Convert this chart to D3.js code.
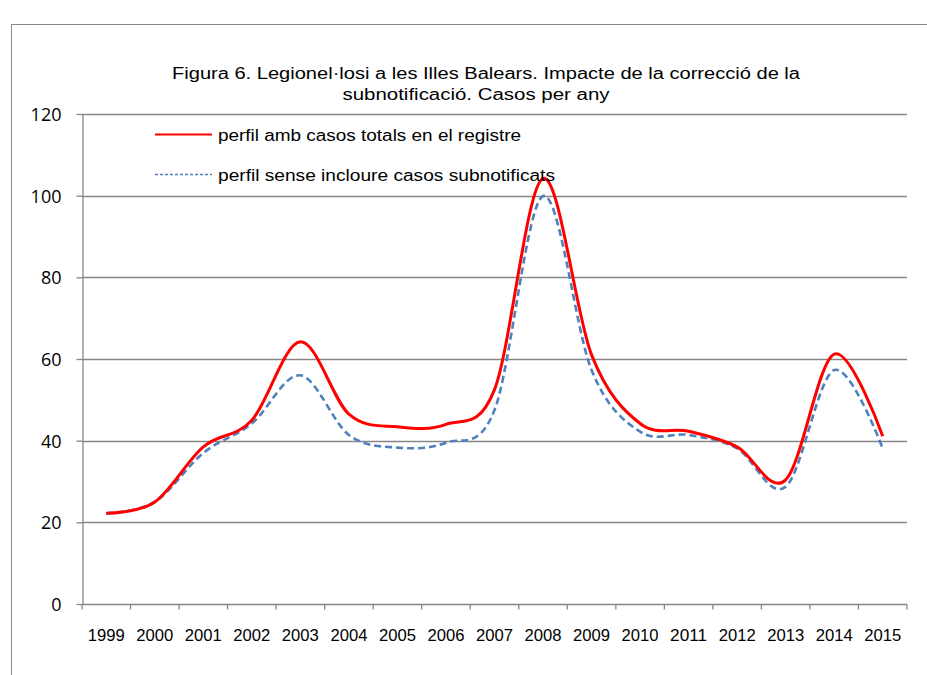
<!DOCTYPE html>
<html><head><meta charset="utf-8">
<script src="https://cdn.jsdelivr.net/npm/d3@7"></script>
<style>body{margin:0;background:#fff}</style>
</head><body>
<svg id="c" width="927" height="675"></svg>
<script>
const years = ["1999","2000","2001","2002","2003","2004","2005","2006","2007","2008","2009","2010","2011","2012","2013","2014","2015"];
const totalCases = [22.2, 25, 38.5, 45, 64.2, 46.5, 43.4, 44, 52.5, 104.2, 61, 44.2, 42.3, 38.5, 30.4, 61.2, 41.1];
const withoutSubnotified = [22.2, 25, 37, 44.2, 56, 41.4, 38.3, 39.5, 47.5, 99.9, 57.3, 42.2, 41.4, 38.1, 28.7, 57.3, 38.1];
const yTicks = [0, 20, 40, 60, 80, 100, 120];
const titleLines = ["Figura 6. Legionel·losi a les Illes Balears.  Impacte de la correcció de la", "subnotificació. Casos per any"];
const legendLabels = ["perfil amb casos  totals en el registre", "perfil sense incloure   casos subnotificats"];

const svg = d3.select("#c");
const L = 82, R = 907, T = 114, B = 604;
const grey = "#868686";

svg.append("path").attr("d","M11.5,675 L11.5,24.5 L927,24.5").attr("fill","none").attr("stroke",grey).attr("stroke-width",1);

const tl = [[486, 79, 628], [476, 100, 267]];
titleLines.forEach((t,i)=>{
  svg.append("text").attr("x",tl[i][0]).attr("y",tl[i][1]).attr("text-anchor","middle")
    .attr("font-family","Liberation Sans, Arial, sans-serif").attr("font-size",16).attr("fill","#000")
    .attr("textLength",tl[i][2]).attr("lengthAdjust","spacingAndGlyphs").text(t);
});

const x = d3.scaleBand().domain(years).range([L, R]);
const y = d3.scaleLinear().domain([0,120]).range([B, T]);

svg.append("g").selectAll("line").data(yTicks.filter(d=>d>0)).join("line")
  .attr("x1",L).attr("x2",R).attr("y1",d=>Math.round(y(d))+0.5).attr("y2",d=>Math.round(y(d))+0.5)
  .attr("stroke",grey).attr("stroke-width",1.3);

const ya = svg.append("g").attr("transform",`translate(${L+0.5},0)`)
  .call(d3.axisLeft(y).tickValues(yTicks).tickSize(6).tickSizeOuter(0));
ya.attr("font-size",null).attr("font-family",null);
ya.select(".domain").attr("stroke",grey).attr("stroke-width",1.3);
ya.selectAll(".tick line").attr("stroke",grey).attr("stroke-width",1.3);
ya.selectAll(".tick text").style("font-family","'Open Sans', 'Noto Sans', sans-serif").style("font-size","18px")
  .attr("fill","#000").attr("x",-21).attr("dy","0.36em");

const xa = svg.append("g").attr("transform",`translate(0,${B+0.5})`);
xa.append("line").attr("x1",L).attr("x2",R).attr("stroke",grey).attr("stroke-width",1.3);
const bounds = years.map(d=>x(d)).concat([R]);
xa.selectAll("line.tk").data(bounds).join("line").attr("class","tk")
  .attr("x1",d=>d).attr("x2",d=>d).attr("y1",0).attr("y2",5).attr("stroke",grey).attr("stroke-width",1.3);
xa.selectAll("text").data(years).join("text")
  .attr("x",d=>x(d)+x.bandwidth()/2).attr("y",36).attr("text-anchor","middle")
  .attr("font-family","Liberation Sans, Arial, sans-serif").attr("font-size",16).attr("fill","#000")
  .attr("textLength",37).attr("lengthAdjust","spacingAndGlyphs").text(d=>d);

const line = d3.line().x((d,i)=>x(years[i])+x.bandwidth()/2).y(d=>y(d)).curve(d3.curveCardinal.tension(0));

svg.append("path").attr("d",line(withoutSubnotified)).attr("fill","none")
  .attr("stroke","#4F81BD").attr("stroke-width",2.6).attr("stroke-dasharray","7,4");
svg.append("path").attr("d",line(totalCases)).attr("fill","none")
  .attr("stroke","#FF0000").attr("stroke-width",3).attr("stroke-linejoin","round");

const lg = [[134.5, "#FF0000", null, 303], [174.5, "#4F81BD", "3,2", 337]];
lg.forEach((g,i)=>{
  svg.append("line").attr("x1",155).attr("x2",212).attr("y1",g[0]).attr("y2",g[0])
    .attr("stroke",g[1]).attr("stroke-width",i===0?2:1.5).attr("stroke-dasharray",g[2]);
  svg.append("text").attr("x",218).attr("y",g[0]+6).attr("font-family","Liberation Sans, Arial, sans-serif")
    .attr("font-size",16).attr("fill","#000").attr("textLength",g[3]).attr("lengthAdjust","spacingAndGlyphs").text(legendLabels[i]);
});
</script>
</body></html>
